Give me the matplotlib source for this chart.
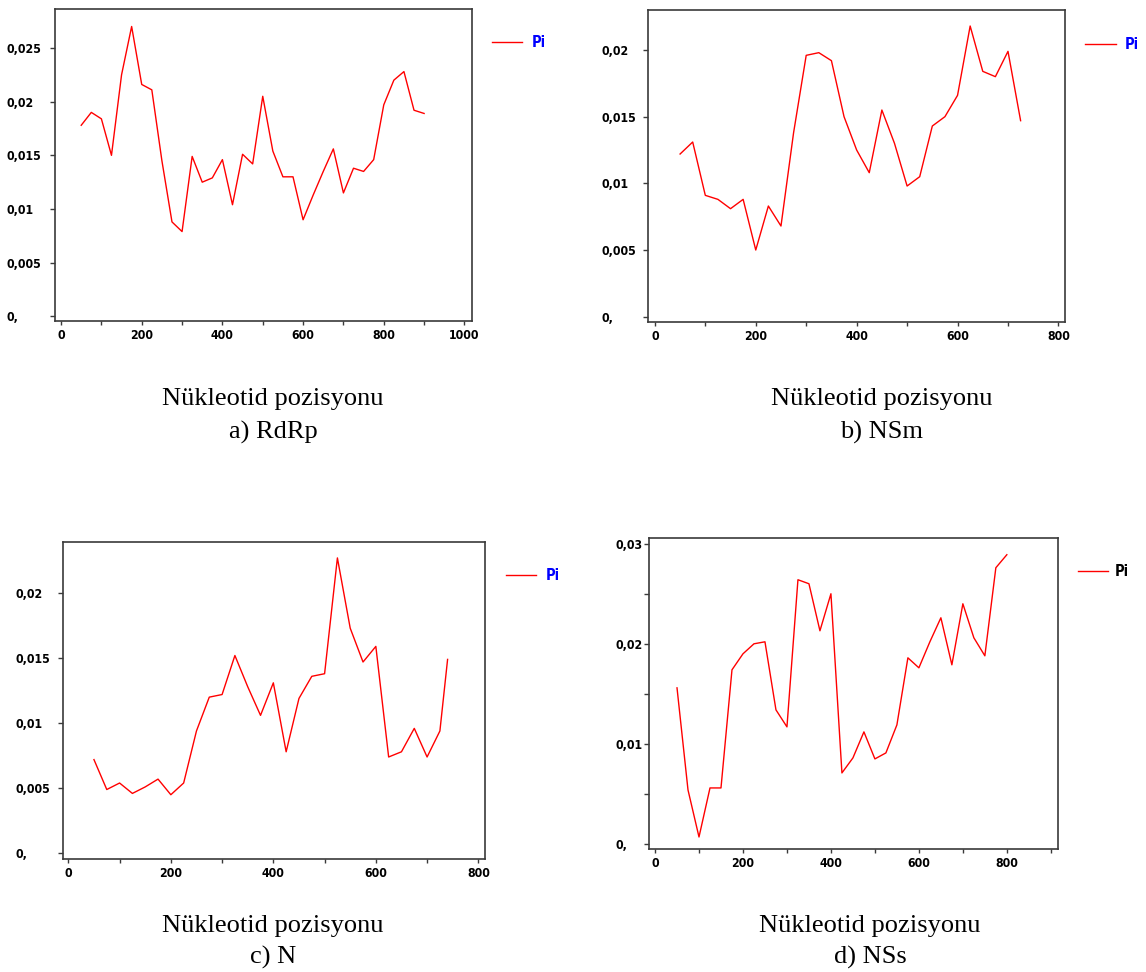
from __future__ import annotations

import matplotlib

matplotlib.use("Agg")
import matplotlib.pyplot as plt

# nucleotide window midpoints and Pi values
rdrp_pos = [50, 75, 100, 125, 150, 175, 200, 225, 250, 275, 300, 325, 350, 375, 400, 425, 450, 475,
            500, 525, 550, 575, 600, 625, 650, 675, 700, 725, 750, 775, 800, 825, 850, 875, 900]
rdrp_pi = [0.0178, 0.0190, 0.0184, 0.0150, 0.0225, 0.0270, 0.0216, 0.0211, 0.0145, 0.0088, 0.0079,
           0.0149, 0.0125, 0.0129, 0.0146, 0.0104, 0.0151, 0.0142, 0.0205, 0.0154, 0.0130, 0.0130,
           0.0090, 0.0113, 0.0135, 0.0156, 0.0115, 0.0138, 0.0135, 0.0146, 0.0197, 0.0220, 0.0228,
           0.0192, 0.0189]

nsm_pos = [50, 75, 100, 125, 150, 175, 200, 225, 250, 275, 300, 325, 350, 375, 400, 425, 450, 475,
           500, 525, 550, 575, 600, 625, 650, 675, 700, 725]
nsm_pi = [0.0122, 0.0131, 0.0091, 0.0088, 0.0081, 0.0088, 0.0050, 0.0083, 0.0068, 0.0138, 0.0196,
          0.0198, 0.0192, 0.0150, 0.0125, 0.0108, 0.0155, 0.0130, 0.0098, 0.0105, 0.0143, 0.0150,
          0.0166, 0.0218, 0.0184, 0.0180, 0.0199, 0.0147]

n_pos = [50, 75, 100, 125, 150, 175, 200, 225, 250, 275, 300, 325, 350, 375, 400, 425, 450, 475,
         500, 525, 550, 575, 600, 625, 650, 675, 700, 725, 740]
n_pi = [0.0072, 0.0049, 0.0054, 0.0046, 0.0051, 0.0057, 0.0045, 0.0054, 0.0094, 0.0120, 0.0122,
        0.0152, 0.0128, 0.0106, 0.0131, 0.0078, 0.0119, 0.0136, 0.0138, 0.0227, 0.0173, 0.0147,
        0.0159, 0.0074, 0.0078, 0.0096, 0.0074, 0.0094, 0.0149]

nss_pos = [50, 75, 100, 125, 150, 175, 200, 225, 250, 275, 300, 325, 350, 375, 400, 425, 450, 475,
           500, 525, 550, 575, 600, 625, 650, 675, 700, 725, 750, 775, 800]
nss_pi = [0.0156, 0.0054, 0.0007, 0.0056, 0.0056, 0.0174, 0.0190, 0.0200, 0.0202, 0.0134, 0.0117,
          0.0264, 0.0260, 0.0213, 0.0250, 0.0071, 0.0086, 0.0112, 0.0085, 0.0091, 0.0119, 0.0186,
          0.0176, 0.0202, 0.0226, 0.0179, 0.0240, 0.0206, 0.0188, 0.0276, 0.0289]

panel_titles = ["a) RdRp", "b) NSm", "c) N", "d) NSs"]
x_title = "Nükleotid pozisyonu"
legend_label = "Pi"

yticks_a = [0.0, 0.005, 0.01, 0.015, 0.02, 0.025]
ylabels_a = ["0,", "0,005", "0,01", "0,015", "0,02", "0,025"]
yticks_b = [0.0, 0.005, 0.01, 0.015, 0.02]
ylabels_b = ["0,", "0,005", "0,01", "0,015", "0,02"]
yticks_d = [0.0, 0.005, 0.01, 0.015, 0.02, 0.025, 0.03]
ylabels_d = ["0,", "", "0,01", "", "0,02", "", "0,03"]

xticks_1000 = [0, 100, 200, 300, 400, 500, 600, 700, 800, 900, 1000]
xlabels_1000 = ["0", "", "200", "", "400", "", "600", "", "800", "", "1000"]
xticks_800 = [0, 100, 200, 300, 400, 500, 600, 700, 800]
xlabels_800 = ["0", "", "200", "", "400", "", "600", "", "800"]
xticks_900 = [0, 100, 200, 300, 400, 500, 600, 700, 800, 900]
xlabels_900 = ["0", "", "200", "", "400", "", "600", "", "800", ""]

W, H = 1146, 972
FRAME = "#3a3a3a"
TICK_FONT = dict(family="DejaVu Sans", weight="bold", stretch="condensed", size=8.8)
LEGEND_FONT = dict(family="DejaVu Sans", weight="bold", stretch="condensed", size=10.5)


def px_box(left, top, right, bottom):
    return [left / W, 1 - bottom / H, (right - left) / W, (bottom - top) / H]


def draw_panel(fig, box, pos, pi, xlim, ylim, xticks, xlabels, yticks, ylabels, ypad, legend_xy,
               legend_color, text_pad):
    ax = fig.add_axes(px_box(*box))
    ax.plot(pos, pi, color="#ff0000", lw=1.0, label=legend_label)
    ax.set_xlim(*xlim)
    ax.set_ylim(*ylim)
    ax.set_xticks(xticks)
    ax.set_xticklabels(xlabels, fontdict=TICK_FONT)
    ax.set_yticks(yticks)
    ax.set_yticklabels(ylabels, fontdict=TICK_FONT)
    for label in ax.get_yticklabels():
        label.set_horizontalalignment("left")
    ax.tick_params(axis="y", length=3.6, width=1.0, color=FRAME, pad=ypad)
    ax.tick_params(axis="x", length=3.1, width=1.0, color=FRAME, pad=3)
    for spine in ax.spines.values():
        spine.set_color(FRAME)
        spine.set_linewidth(1.2)
    leg = ax.legend(loc="center left", bbox_to_anchor=legend_xy, frameon=False, borderaxespad=0,
                    borderpad=0, handlelength=2.1, handletextpad=text_pad, prop=LEGEND_FONT)
    for text in leg.get_texts():
        text.set_color(legend_color)
    return ax


def caption(fig, cx, base1, base2, title):
    font = dict(family="Liberation Serif", size=19)
    fig.text(cx / W, 1 - base1 / H, x_title, ha="center", va="baseline", **font)
    fig.text(cx / W, 1 - base2 / H, title, ha="center", va="baseline", **font)


def main() -> int:
    fig = plt.figure(figsize=(W / 100, H / 100), dpi=100)

    draw_panel(fig, (55, 9.3, 471.7, 320.7), rdrp_pos, rdrp_pi, (-15, 1018), (-0.0004, 0.0286),
               xticks_1000, xlabels_1000, yticks_a, ylabels_a, 31, (1.048, 0.892), "#0000ff", 0.65)
    draw_panel(fig, (648.3, 10, 1065, 321.7), nsm_pos, nsm_pi, (-13, 813), (-0.000375, 0.023),
               xticks_800, xlabels_800, yticks_b, ylabels_b, 30, (1.048, 0.89), "#0000ff", 0.65)
    draw_panel(fig, (62.7, 542.3, 485, 859), n_pos, n_pi, (-11, 813), (-0.00044, 0.0239),
               xticks_800, xlabels_800, yticks_b, ylabels_b, 30.7, (1.049, 0.895), "#0000ff", 0.65)
    draw_panel(fig, (649.3, 537.7, 1058.3, 849), nss_pos, nss_pi, (-13, 917), (-0.0005, 0.0306),
               xticks_900, xlabels_900, yticks_d, ylabels_d, 21, (1.047, 0.891), "#000000", 0.45)

    caption(fig, 273, 405, 439, panel_titles[0])
    caption(fig, 882, 405, 439, panel_titles[1])
    caption(fig, 273, 932, 964, panel_titles[2])
    caption(fig, 870, 932, 964, panel_titles[3])

    fig.savefig("out.png", dpi=100, facecolor="white")
    plt.close(fig)
    return 0


if __name__ == "__main__":
    raise SystemExit(main())
